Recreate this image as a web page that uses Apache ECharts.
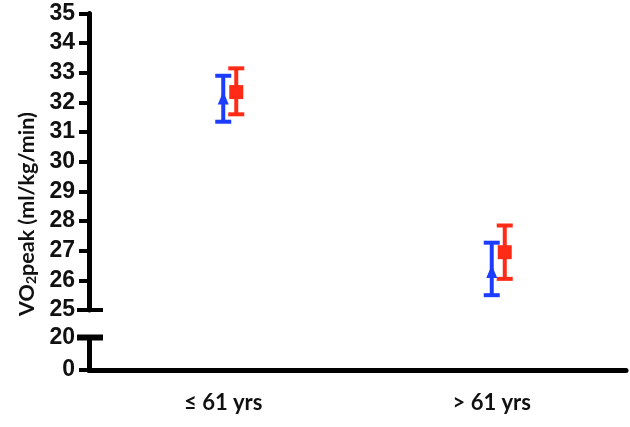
<!DOCTYPE html>
<html>
<head>
<meta charset="utf-8">
<script src="https://cdn.jsdelivr.net/npm/echarts@6/dist/echarts.min.js"></script>
<style>
  html, body { margin: 0; padding: 0; background: #fff; }
  #main { width: 630px; height: 427px; }
</style>
</head>
<body>
<div id="main"></div>
<script>
// data
const categories = ['≤ 61 yrs', '> 61 yrs'];
const blueMean = [32.15, 26.3];
const blueLow = [31.35, 25.5];
const blueHigh = [32.9, 27.27];
const redMean = [32.35, 26.95];
const redLow = [31.6, 26.05];
const redHigh = [33.15, 27.85];
const upperRange = [25, 35];
const lowerTicks = [0, 20];

const BLUE = '#1c3cff';
const RED = '#ff2b17';

let chart = echarts.init(document.getElementById('main'));

function errRows(low, high) {
    return categories.map((c, i) => [i, low[i], high[i]]);
}

function errBar(offset, color) {
    return function (params, api) {
        const lo = api.coord([api.value(0), api.value(1)]);
        const hi = api.coord([api.value(0), api.value(2)]);
        const x = lo[0] + offset;
        const st = { stroke: color, lineWidth: 4 };
        return {
            type: 'group',
            children: [
                { type: 'line', shape: { x1: x, y1: lo[1], x2: x, y2: hi[1] }, style: st },
                { type: 'line', shape: { x1: x - 8, y1: lo[1], x2: x + 8, y2: lo[1] }, style: st },
                { type: 'line', shape: { x1: x - 8, y1: hi[1], x2: x + 8, y2: hi[1] }, style: st }
            ]
        };
    };
}

function breakMark(width) {
    return function (params, api) {
        const p = api.coord([0, api.value(1)]);
        const x0 = params.coordSys.x;
        return {
            type: 'line',
            shape: { x1: x0 - 12, y1: p[1], x2: x0 + 14, y2: p[1] },
            style: { stroke: '#000', lineWidth: width }
        };
    };
}

const yLabel = { fontSize: 23, fontWeight: 'bold', fontFamily: 'Liberation Sans', color: '#111', margin: 14 };

option = {
    animation: false,
    grid: [
        { left: 89, right: 4, top: 13.5, height: 296.5 },
        { left: 89, right: 4, top: 337.5, height: 32.5 }
    ],
    xAxis: [
        {
            gridIndex: 0, type: 'category', data: categories,
            axisLine: { show: false }, axisTick: { show: false }, axisLabel: { show: false }
        },
        {
            gridIndex: 1, type: 'category', data: categories,
            axisLine: { lineStyle: { color: '#000', width: 5 } },
            axisTick: { alignWithLabel: true, length: 12, lineStyle: { color: '#000', width: 4 } },
            axisLabel: { fontSize: 22, fontWeight: 'bold', fontFamily: 'Lato', color: '#111', margin: 22 }
        }
    ],
    yAxis: [
        {
            gridIndex: 0, type: 'value', min: upperRange[0], max: upperRange[1], interval: 1,
            axisLine: { show: true, lineStyle: { color: '#000', width: 5 } },
            axisTick: { show: true, length: 10, lineStyle: { color: '#000', width: 4 } },
            axisLabel: yLabel,
            splitLine: { show: false }
        },
        {
            gridIndex: 1, type: 'value', min: lowerTicks[0], max: lowerTicks[1], interval: 20,
            axisLine: { show: true, lineStyle: { color: '#000', width: 5 } },
            axisTick: { show: true, length: 10, lineStyle: { color: '#000', width: 4 } },
            axisLabel: yLabel,
            splitLine: { show: false }
        }
    ],
    graphic: [{
        type: 'text',
        x: 27, y: 214,
        rotation: Math.PI / 2,
        style: {
            text: 'VO{s|2}peak (ml/kg/min)',
            fontSize: 21.5, fontWeight: 'bold', fontFamily: 'Lato', fill: '#111',
            align: 'center', verticalAlign: 'middle',
            rich: {
                s: { fontSize: 14, fontWeight: 'bold', fontFamily: 'Lato', fill: '#111', verticalAlign: 'bottom', padding: [9, 0, 0, 0] }
            }
        }
    }],
    series: [
        {
            type: 'custom', xAxisIndex: 0, yAxisIndex: 0, renderItem: breakMark(4),
            data: [[0, upperRange[0]]], z: 5, silent: true
        },
        {
            type: 'custom', xAxisIndex: 1, yAxisIndex: 1, renderItem: breakMark(6),
            data: [[0, lowerTicks[1]]], z: 5, silent: true
        },
        {
            name: 'blue err', type: 'custom', xAxisIndex: 0, yAxisIndex: 0,
            renderItem: errBar(0, BLUE), data: errRows(blueLow, blueHigh), z: 3
        },
        {
            name: 'red err', type: 'custom', xAxisIndex: 0, yAxisIndex: 0,
            renderItem: errBar(13, RED), data: errRows(redLow, redHigh), z: 3
        },
        {
            name: 'blue', type: 'scatter', xAxisIndex: 0, yAxisIndex: 0,
            symbol: 'triangle', symbolSize: [11, 13],
            itemStyle: { color: BLUE, opacity: 1 },
            data: categories.map((c, i) => [i, blueMean[i]]), z: 4
        },
        {
            name: 'red', type: 'scatter', xAxisIndex: 0, yAxisIndex: 0,
            symbol: 'rect', symbolSize: [14, 14], symbolOffset: [13, 0],
            itemStyle: { color: RED, opacity: 1 },
            data: categories.map((c, i) => [i, redMean[i]]), z: 4
        }
    ]
};
chart.setOption(option);
</script>
</body>
</html>
